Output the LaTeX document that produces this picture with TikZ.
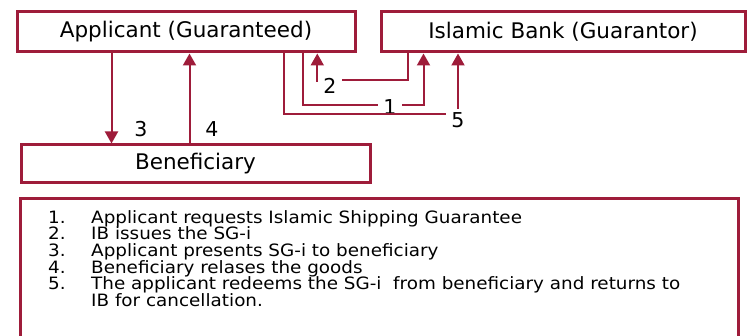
\documentclass[tikz,border=0pt]{standalone}
\usepackage{fontspec}
\setmainfont{DejaVu Sans}
\newfontfamily\legendfont[FakeStretch=1.08]{DejaVu Sans}
\usetikzlibrary{arrows.meta}
\definecolor{maroon}{RGB}{158,28,58}
\tikzset{
  party/.style={draw=maroon, line width=3pt, minimum height=40pt, inner sep=0pt,
                font=\fontsize{21.5}{24}\selectfont},
  flow/.style={draw=maroon, line width=2pt},
  tip/.style={flow, -{Triangle[length=12pt,width=13pt]}},
  stepno/.style={inner xsep=5.5pt, inner ysep=3.5pt, font=\fontsize{20.5}{22}\selectfont},
  listitem/.style={anchor=base west, inner sep=0pt, font=\legendfont\fontsize{17}{17}\selectfont}
}
\begin{document}
\begin{tikzpicture}[x=1pt, y=-1pt]
  \useasboundingbox (0,0) rectangle (747,336);

  % parties
  \node[party, minimum width=338pt] (app)  at (186,32)   {Applicant (Guaranteed)};
  \node[party, minimum width=364pt] (bank) at (563,32)   {Islamic Bank (Guarantor)};
  \node[party, minimum width=349pt, minimum height=38pt] (ben) at (195.5,164) {Beneficiary};

  % step numbers
  \node[stepno] (n1) at (390,107.5) {1};
  \node[stepno] (n2) at (330,85.5)  {2};
  \node[stepno] (n3) at (141,129.5) {3};
  \node[stepno] (n4) at (212,129.5) {4};
  \node[stepno] (n5) at (458,120)   {5};

  % 3: applicant -> beneficiary, 4: beneficiary -> applicant
  \draw[tip] ([xshift=96pt]app.south west) -- ([xshift=96pt]app.south west |- ben.north);
  \draw[tip] ([xshift=174pt]app.south west |- ben.north) -- ([xshift=174pt]app.south west);

  % 1: applicant requests the guarantee from the bank
  \draw[flow] ([xshift=287pt]app.south west) |- ([yshift=2pt]n1.west);
  \draw[tip] ([yshift=2pt]n1.east) -| ([xshift=44pt]bank.south west);

  % 2: bank issues the SG-i to the applicant
  \draw[flow] ([xshift=28pt]bank.south west) |- ([yshift=5pt]n2.east);
  \draw[tip] ([xshift=-0.5pt,yshift=3.5pt]n2.west) -- ([xshift=-0.5pt]n2.west |- app.south);

  % 5: applicant returns the redeemed SG-i to the bank
  \draw[flow] ([xshift=268pt]app.south west) |- ([yshift=6pt]n5.west);
  \draw[tip] (n5.north) -- (n5.north |- bank.south);

  % legend frame (runs past the lower edge)
  \draw[draw=maroon, line width=3pt] (20,340) -- (20,199) -- (738,199) -- (738,340);

  % legend entries
  \node[listitem] (k1) at (48,223.3) {1.};
  \node[listitem] (k2) at (48,240)   {2.};
  \node[listitem] (k3) at (48,257)   {3.};
  \node[listitem] (k4) at (48,273.5) {4.};
  \node[listitem] (k5) at (48,290)   {5.};
  \node[listitem] (t1) at (91,223.3) {Applicant requests Islamic Shipping Guarantee};
  \node[listitem] (t2) at (91,240)   {IB issues the SG-i};
  \node[listitem] (t3) at (91,257)   {Applicant presents SG-i to beneficiary};
  \node[listitem] (t4) at (91,273.5) {Beneficiary relases the goods};
  \node[listitem] (t5) at (91,290)   {The applicant redeems the SG-i\ \ from beneficiary and returns to};
  \node[listitem] (t6) at (91,307)   {IB for cancellation.};
\end{tikzpicture}
\end{document}
